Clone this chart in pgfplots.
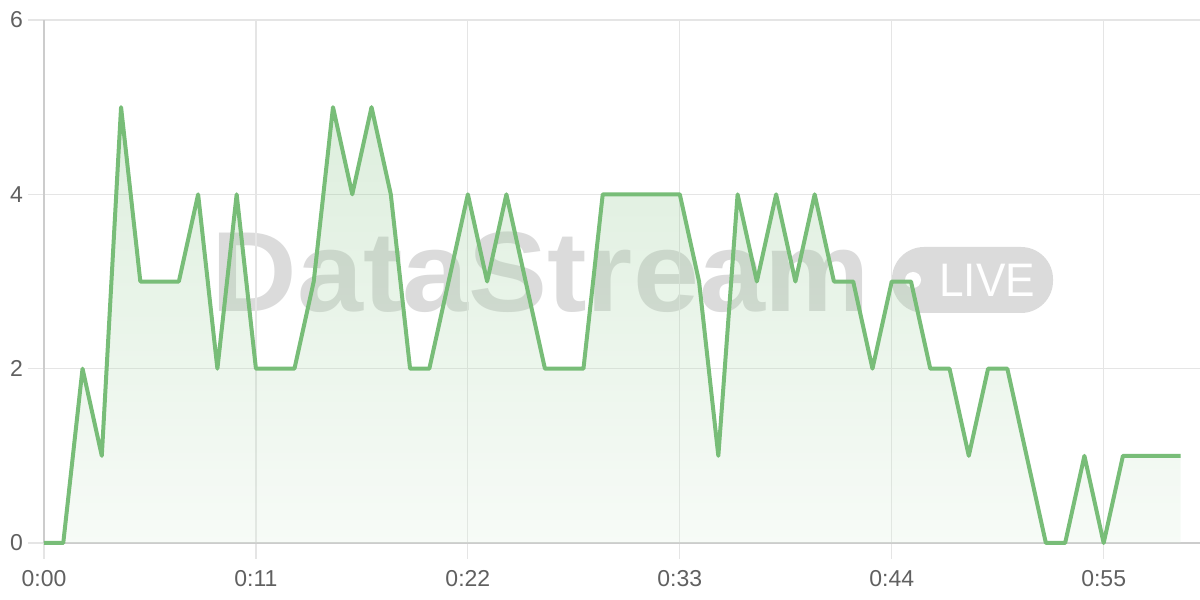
\documentclass[border=0pt]{standalone}
\usepackage{pgfplots}
\pgfplotsset{compat=1.18}
\usepackage{fontspec}
\setmainfont{Liberation Sans}
\definecolor{lineg}{RGB}{120,189,120}
\definecolor{fillbot}{RGB}{223,239,223}
\definecolor{gridc}{RGB}{229,229,229}
\definecolor{axisc}{RGB}{204,204,204}
\definecolor{labc}{RGB}{96,96,96}
\pgfplotstableread{
t v
0 0
1 0
2 2
3 1
4 5
5 3
6 3
7 3
8 4
9 2
10 4
11 2
12 2
13 2
14 3
15 5
16 4
17 5
18 4
19 2
20 2
21 3
22 4
23 3
24 4
25 3
26 2
27 2
28 2
29 4
30 4
31 4
32 4
33 4
34 3
35 1
36 4
37 3
38 4
39 3
40 4
41 3
42 3
43 2
44 3
45 3
46 2
47 2
48 1
49 2
50 2
51 1
52 0
53 0
54 1
55 0
56 1
57 1
58 1
59 1
}\datatable
\begin{document}
\begin{tikzpicture}
\useasboundingbox (0,0) rectangle (600pt,300pt);
% watermark
\node[anchor=base, text=black, text opacity=0.14, font=\fontsize{57}{57}\selectfont\bfseries, inner sep=0pt, xscale=1.04] at (270.5pt,144pt) {DataStream};
\fill[black, opacity=0.14, rounded corners=16pt] (446pt,143.5pt) rectangle (526.5pt,176.5pt);
\fill[white] (456.5pt,160pt) circle (4pt);
\node[anchor=base west, text=white, font=\fontsize{23.5}{23.5}\selectfont, inner sep=0pt, xscale=0.94] at (469.5pt,151.5pt) {LIVE};
\begin{axis}[
  at={(22pt,28.5pt)}, anchor=south west,
  scale only axis, width=578pt, height=261.5pt,
  xmin=0, xmax=60, ymin=0, ymax=6,
  xtick={0,11,22,33,44,55},
  xticklabels={0:00,0:11,0:22,0:33,0:44,0:55},
  ytick={0,2,4,6},
  grid=major,
  grid style={draw=gridc, line width=0.6pt},
  axis x line*=bottom, axis y line*=left,
  axis line style={draw=axisc, line width=1pt, -},
  tick style={draw=gridc, line width=0.6pt},
  major tick length=8pt, tick align=outside,
  ticklabel style={font=\fontsize{11.5}{13}\selectfont, text=labc},
  /pgf/number format/assume math mode=true,
  xticklabel style={yshift=-2pt},
  yticklabel style={xshift=1pt},
  clip=false,
]
\addplot[draw=none, top color=lineg, bottom color=fillbot, fill opacity=0.25] table[x=t,y=v] {\datatable} \closedcycle;
\addplot[color=lineg, line width=2pt, line join=round, mark=none] table[x=t,y=v] {\datatable};
\end{axis}
\end{tikzpicture}
\end{document}
